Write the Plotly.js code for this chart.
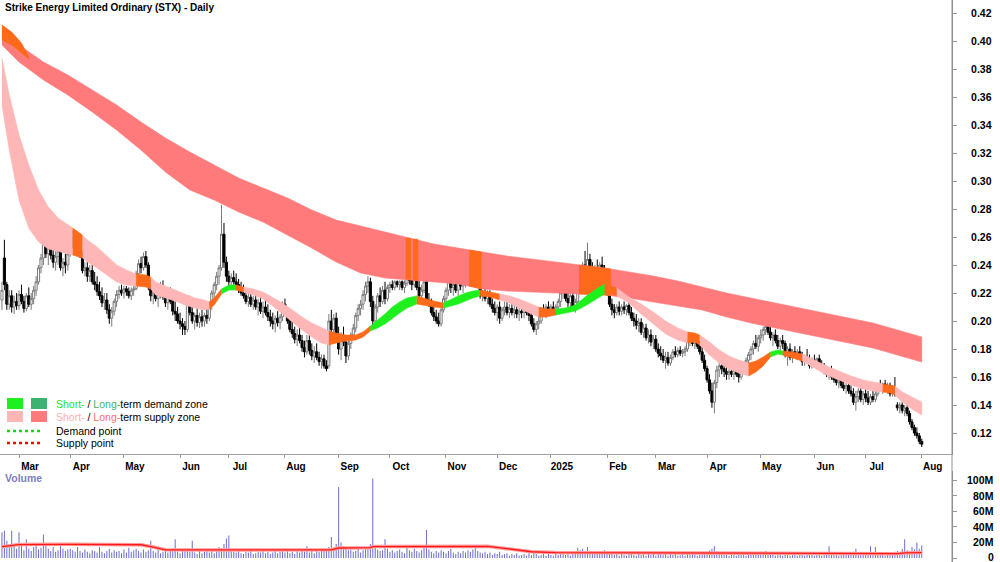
<!DOCTYPE html>
<html><head><meta charset="utf-8">
<script src="https://cdn.plot.ly/plotly-3.0.1.min.js"></script>
<style>html,body{margin:0;padding:0;background:#fff}#chart{width:1000px;height:562px}</style>
</head><body><div id="chart"></div>
<script>
// ---------- trading calendar (weekdays) ----------
const firstDay = Date.UTC(2024, 1, 21), lastDay = Date.UTC(2025, 7, 1);
const dates = [];
for (let t = firstDay; t <= lastDay; t += 86400000) {
  const wd = new Date(t).getUTCDay();
  if (wd !== 0 && wd !== 6) dates.push(new Date(t).toISOString().slice(0, 10));
}
const monthNames = ['Jan','Feb','Mar','Apr','May','Jun','Jul','Aug','Sep','Oct','Nov','Dec'];

// ---------- daily prices (A$) ----------
const open = [
.215,.245,.226,.212,.218,.210,.214,
.211,.219,.214,.209,.218,.212,.216,.222,.228,.238,
.245,.255,.248,.252,.247,.242,.246,.250,.238,.242,
.240,.248,.260,.256,.253,.258,.248,.236,.238,.232,
.236,.228,.226,.221,.218,.213,.215,.208,.202,.207,
.214,.219,.222,.220,.223,.221,.218,.222,.223,.234,
.241,.238,.246,.240,.225,.218,.220,.216,.219,.224,
.217,.213,.218,.214,.207,.205,.200,.198,.196,.194,
.214,.206,.200,.204,.199,.203,.200,.204,.202,.212,
.220,.226,.232,.238,.262,.242,.232,.228,.231,.228,
.226,.224,.220,.218,.214,.217,.212,.215,.210,.213,
.207,.210,.206,.203,.200,.198,.202,.199,.203,.212,
.206,.200,.194,.191,.187,.190,.186,.181,.178,.186,
.179,.175,.178,.174,.171,.173,.168,.168,.200,.194,
.202,.190,.180,.188,.185,.175,.184,.190,.195,.204,
.209,.212,.219,.225,.228,.214,.200,.210,.218,.214,
.222,.216,.224,.226,.224,.228,.226,.228,.224,.227,
.234,.229,.226,.236,.224,.218,.222,.228,.215,.212,
.206,.203,.200,.198,.208,.216,.222,.228,.224,.226,
.222,.228,.225,.230,.232,.235,.232,.240,.244,.228,
.218,.220,.216,.219,.212,.209,.206,.210,.202,.208,
.210,.206,.209,.206,.208,.205,.207,.206,.209,.206,
.204,.198,.194,.198,.200,.208,.206,.210,.208,.210,
.207,.210,.214,.220,.222,.216,.213,.218,.210,.214,
.224,.234,.240,.238,.244,.236,.234,.238,.236,.240,
.236,.226,.222,.212,.208,.206,.210,.207,.210,.208,
.211,.206,.202,.200,.197,.199,.192,.195,.188,.190,
.185,.187,.180,.177,.175,.172,.174,.170,.174,.178,
.176,.179,.177,.178,.180,.186,.188,.184,.188,.182,
.178,.172,.166,.158,.150,.142,.156,.165,.168,.166,
.164,.162,.164,.162,.165,.162,.160,.164,.168,.172,
.176,.180,.184,.182,.188,.190,.194,.196,.192,.188,
.190,.186,.182,.186,.184,.176,.180,.174,.178,.176,
.178,.174,.171,.174,.172,.168,.172,.170,.173,.168,
.166,.164,.162,.164,.160,.158,.156,.158,.154,.152,
.154,.150,.148,.142,.146,.150,.144,.148,.145,.142,
.146,.144,.148,.154,.152,.155,.152,.154,.148,.152,
.140,.138,.140,.136,.138,.134,.128,.124,.120,.118,
.114];
const high = [
.228,.258,.228,.222,.222,.218,.220,
.222,.226,.218,.220,.224,.220,.225,.232,.240,.248,
.260,.263,.256,.258,.252,.250,.255,.254,.245,.248,
.250,.262,.265,.263,.260,.262,.250,.242,.243,.240,
.241,.235,.232,.228,.224,.220,.220,.212,.210,.216,
.222,.225,.226,.225,.225,.224,.224,.225,.236,.244,
.246,.249,.250,.242,.230,.224,.226,.222,.228,.229,
.222,.220,.224,.218,.214,.210,.206,.202,.200,.216,
.218,.212,.206,.209,.206,.208,.206,.210,.214,.222,
.228,.235,.240,.283,.270,.246,.236,.234,.236,.234,
.230,.228,.226,.222,.220,.222,.218,.220,.216,.218,
.214,.215,.212,.208,.206,.204,.207,.205,.214,.216,
.210,.204,.200,.196,.194,.198,.190,.186,.190,.190,
.184,.182,.184,.178,.176,.176,.172,.205,.208,.205,
.206,.196,.192,.196,.190,.186,.192,.198,.206,.212,
.215,.222,.228,.232,.231,.218,.212,.220,.224,.225,
.228,.226,.228,.229,.229,.229,.229,.229,.229,.238,
.237,.229,.240,.238,.230,.226,.230,.230,.220,.216,
.212,.208,.206,.210,.218,.224,.232,.234,.230,.232,
.230,.234,.232,.236,.238,.240,.242,.248,.250,.232,
.222,.224,.222,.222,.216,.214,.212,.214,.210,.214,
.214,.212,.212,.212,.212,.210,.212,.212,.213,.210,
.208,.202,.200,.204,.210,.212,.212,.214,.212,.214,
.212,.216,.222,.226,.226,.220,.220,.222,.216,.226,
.236,.242,.250,.256,.248,.242,.240,.244,.242,.246,
.240,.232,.226,.216,.212,.212,.214,.212,.214,.212,
.214,.210,.206,.205,.202,.202,.198,.198,.194,.194,
.190,.190,.184,.182,.180,.178,.178,.176,.180,.182,
.181,.182,.180,.182,.188,.190,.190,.190,.190,.186,
.182,.176,.168,.162,.156,.158,.168,.172,.174,.170,
.168,.166,.168,.166,.168,.166,.166,.170,.174,.178,
.182,.186,.190,.190,.194,.196,.200,.202,.198,.192,
.194,.190,.188,.190,.186,.182,.184,.180,.182,.180,
.182,.178,.176,.180,.176,.174,.176,.174,.176,.172,
.170,.168,.166,.168,.164,.162,.160,.160,.158,.156,
.156,.154,.152,.150,.152,.152,.150,.152,.150,.148,
.150,.150,.156,.158,.156,.158,.156,.156,.154,.160,
.142,.142,.142,.140,.140,.136,.130,.126,.124,.120,
.116];
const low = [
.208,.222,.208,.208,.206,.205,.208,
.208,.212,.206,.207,.210,.208,.212,.218,.226,.234,
.240,.245,.240,.244,.238,.236,.240,.236,.232,.234,
.236,.246,.252,.250,.248,.245,.234,.232,.228,.228,
.226,.222,.218,.215,.210,.208,.205,.198,.196,.204,
.210,.216,.218,.216,.218,.216,.215,.218,.222,.230,
.234,.236,.238,.222,.214,.212,.214,.210,.216,.215,
.210,.208,.212,.204,.200,.198,.194,.190,.190,.192,
.204,.198,.194,.196,.195,.196,.196,.198,.200,.208,
.215,.222,.226,.236,.238,.228,.224,.224,.226,.222,
.220,.218,.216,.212,.210,.210,.208,.208,.204,.205,
.202,.204,.200,.196,.194,.192,.196,.194,.200,.204,
.198,.192,.188,.184,.182,.184,.178,.174,.176,.176,
.172,.170,.172,.168,.166,.166,.164,.166,.190,.190,
.186,.176,.172,.182,.170,.172,.180,.186,.192,.200,
.204,.208,.214,.220,.210,.196,.198,.206,.210,.212,
.212,.214,.220,.222,.222,.224,.222,.222,.220,.225,
.226,.222,.224,.222,.214,.212,.220,.212,.210,.204,
.200,.198,.196,.196,.206,.212,.218,.220,.218,.220,
.218,.222,.220,.224,.226,.228,.230,.236,.226,.216,
.214,.214,.212,.210,.206,.204,.200,.198,.200,.204,
.204,.202,.204,.202,.202,.200,.202,.202,.204,.200,
.196,.192,.190,.194,.198,.204,.202,.206,.204,.205,
.204,.206,.210,.216,.214,.210,.210,.208,.206,.212,
.222,.230,.234,.236,.234,.230,.228,.232,.230,.232,
.224,.218,.210,.204,.202,.204,.204,.204,.205,.204,
.204,.200,.196,.194,.192,.190,.188,.186,.184,.182,
.180,.178,.174,.172,.170,.166,.168,.168,.172,.174,
.174,.175,.174,.175,.178,.182,.182,.180,.180,.176,
.170,.164,.156,.148,.138,.134,.152,.160,.162,.160,
.158,.158,.160,.158,.160,.156,.158,.162,.166,.170,
.172,.176,.180,.178,.184,.186,.190,.190,.186,.182,
.184,.180,.178,.180,.174,.168,.172,.170,.174,.172,
.172,.168,.168,.170,.166,.166,.168,.166,.166,.164,
.162,.160,.158,.158,.156,.154,.152,.152,.150,.148,
.148,.146,.140,.136,.142,.142,.140,.142,.140,.140,
.142,.142,.146,.150,.148,.150,.148,.146,.146,.146,
.136,.134,.134,.132,.132,.126,.122,.118,.116,.112,
.110];
const close = [
.222,.226,.212,.218,.210,.214,.211,
.219,.214,.209,.218,.212,.216,.222,.228,.238,.245,
.255,.248,.252,.247,.242,.246,.250,.238,.242,.240,
.248,.260,.256,.253,.258,.248,.236,.238,.232,.236,
.228,.226,.221,.218,.213,.215,.208,.202,.207,.214,
.219,.222,.220,.223,.221,.218,.222,.223,.234,.241,
.238,.246,.240,.225,.218,.220,.216,.219,.224,.217,
.213,.218,.214,.207,.205,.200,.198,.196,.194,.214,
.206,.200,.204,.199,.203,.200,.204,.202,.212,.220,
.226,.232,.238,.262,.242,.232,.228,.231,.228,.226,
.224,.220,.218,.214,.217,.212,.215,.210,.213,.207,
.210,.206,.203,.200,.198,.202,.199,.203,.212,.206,
.200,.194,.191,.187,.190,.186,.181,.178,.186,.179,
.175,.178,.174,.171,.173,.168,.166,.200,.194,.202,
.190,.180,.188,.185,.175,.184,.190,.195,.204,.209,
.212,.219,.225,.228,.214,.200,.210,.218,.214,.222,
.216,.224,.226,.224,.228,.226,.228,.224,.227,.234,
.229,.226,.236,.224,.218,.222,.228,.215,.212,.206,
.203,.200,.198,.208,.216,.222,.228,.224,.226,.222,
.228,.225,.230,.232,.235,.232,.240,.244,.228,.218,
.220,.216,.219,.212,.209,.206,.210,.202,.208,.210,
.206,.209,.206,.208,.205,.207,.206,.209,.206,.204,
.198,.194,.198,.200,.208,.206,.210,.208,.210,.207,
.210,.214,.220,.222,.216,.213,.218,.210,.214,.224,
.234,.240,.238,.244,.236,.234,.238,.236,.240,.236,
.226,.222,.212,.208,.206,.210,.207,.210,.208,.211,
.206,.202,.200,.197,.199,.192,.195,.188,.190,.185,
.187,.180,.177,.175,.172,.174,.170,.174,.178,.176,
.179,.177,.178,.180,.186,.188,.184,.188,.182,.178,
.172,.166,.158,.150,.142,.156,.165,.168,.166,.164,
.162,.164,.162,.165,.162,.160,.164,.168,.172,.176,
.180,.184,.182,.188,.190,.194,.196,.192,.188,.190,
.186,.182,.186,.184,.176,.180,.174,.178,.176,.178,
.174,.171,.174,.172,.168,.172,.170,.173,.168,.166,
.164,.162,.164,.160,.158,.156,.158,.154,.152,.154,
.150,.148,.142,.146,.150,.144,.148,.145,.142,.146,
.144,.148,.154,.152,.155,.152,.154,.148,.152,.148,
.138,.140,.136,.138,.134,.128,.124,.120,.118,.114,
.112];

// ---------- daily volume (millions of shares) ----------
const volumeM = [
33,35,22,14,35,18,12,
33,16,10,24,12,9,14,18,11,13,
30,16,12,9,14,8,10,17,12,9,
11,12,10,8,14,9,7,11,8,6,
10,9,7,14,8,6,9,12,7,10,
8,9,6,11,7,13,8,10,12,9,
7,11,8,10,22,9,7,12,6,8,
10,7,9,11,24,8,6,9,12,10,
8,22,7,5,9,6,8,11,7,9,
6,10,14,12,18,25,29,11,8,7,
9,6,5,8,7,10,5,6,8,7,
9,6,8,5,7,9,6,8,10,7,
12,6,8,5,9,7,10,8,15,7,
9,6,10,8,12,9,11,14,27,12,
18,91,20,15,12,10,11,8,9,12,
7,10,14,12,18,102,16,11,9,10,
24,12,8,10,7,9,11,8,6,13,
10,8,12,9,7,10,14,36,11,8,
6,9,7,10,8,6,9,12,7,5,
8,6,9,7,10,8,11,13,9,7,
6,8,5,7,4,6,5,8,4,5,
6,3,5,4,6,3,4,5,3,6,
4,7,5,3,4,6,3,5,4,3,
5,4,6,8,4,5,3,6,9,13,
10,12,8,14,7,6,9,5,7,6,
10,8,6,5,4,6,3,5,4,3,
5,6,4,3,5,4,7,3,5,4,
6,3,5,7,4,6,3,5,4,6,
3,4,5,3,6,4,7,5,3,4,
6,5,8,10,12,15,9,7,5,6,
4,3,5,4,3,5,4,6,3,5,
7,4,6,5,8,6,9,5,4,6,
3,5,4,3,5,4,3,6,4,3,
5,4,3,5,4,6,3,4,5,3,
6,4,15,5,4,6,3,5,4,7,
5,4,8,12,6,5,4,7,5,15,
6,14,5,4,6,3,5,4,6,8,
9,7,12,24,10,8,14,11,20,12,
16];
// volume moving average, read at sample sessions (session = position in dates)
const volMaSession = [0,4,7,27,47,57,62,67,87,117,135,138,151,152,167,199,207,212,217,227,257,287,307,347,367,370,377];
const volMaM       = [14.5,16.5,17.2,17.5,17.2,17,14,10.5,10.3,10.3,10.5,12.8,13.2,14.6,15,15,12,10,8,7,6.5,6.3,5.7,5.5,5.6,6.5,7];
const volTicks = [0,20,40,60,80,100];

// ---------- long-term zone (price), sampled sessions ----------
const ltSession = [0,7,17,27,37,47,57,67,77,87,97,107,117,127,137,147,157,167,177,187,197,207,217,227,237,247,257,267,277,287,297,307,317,327,337,347,357,367,377];
const ltUpper = [.4114,.3972,.3850,.3757,.3650,.3543,.3421,.3307,.3207,.3114,.3021,.2950,.2879,.2793,.2721,.2679,.2636,.2593,.2550,.2521,.2493,.2464,.2443,.2421,.2400,.2379,.2350,.2321,.2286,.2243,.2200,.2164,.2129,.2093,.2057,.2021,.1986,.1936,.1886];
const ltLower = [.3972,.3850,.3722,.3614,.3493,.3364,.3221,.3064,.2936,.2864,.2779,.2707,.2614,.2521,.2421,.2343,.2307,.2293,.2279,.2264,.2229,.2214,.2207,.2200,.2193,.2186,.2164,.2136,.2107,.2079,.2029,.1986,.1950,.1914,.1879,.1843,.1807,.1757,.1707];
// long-term zone sections where price trades inside it
const ltTouch = [
  {session:[0,4,8,11],        upper:[.4114,.4064,.3986,.3886], lower:[.4007,.3972,.3914,.3871]},
  {session:[165.5,167.5],     upper:[.2593,.2590], lower:[.2300,.2298]},
  {session:[168.5,170.5],     upper:[.2586,.2583], lower:[.2290,.2288]},
  {session:[191.5,196.5],     upper:[.2507,.2493], lower:[.2250,.2229]},
  {session:[236.5,247,249.5], upper:[.2400,.2379,.2372], lower:[.2193,.2186,.2184]}
];

// ---------- short-term zone (price), sampled sessions ----------
const stSession = [0,3,7,11,15,19,23,27,29,33,35,39,43,47,51,55,59,61,63,67,71,75,79,83,85,87,90,93,96,99,103,107,111,115,119,123,127,131,134,137,141,145,148,151,154,157,160,163,166,170,173,177,181,184,187,190,193,196,200,204,208,212,216,220,223,227,231,235,239,243,247,250,252,257,262,267,272,277,281,284,286,290,294,298,302,306,309,312,315,318,320,324,328,333,338,343,348,353,357,361,364,366,369,373,377];
const stUpper = [.3879,.3614,.3329,.3114,.2936,.2814,.2736,.2686,.2664,.2614,.2579,.2529,.2464,.2400,.2364,.2336,.2329,.2314,.2279,.2250,.2221,.2193,.2164,.2150,.2136,.2164,.2229,.2257,.2257,.2243,.2229,.2207,.2171,.2129,.2079,.2029,.1986,.1950,.1929,.1914,.1900,.1900,.1921,.1964,.2007,.2050,.2100,.2136,.2164,.2179,.2164,.2143,.2129,.2157,.2179,.2200,.2214,.2221,.2207,.2193,.2179,.2157,.2129,.2100,.2086,.2086,.2093,.2114,.2171,.2221,.2264,.2250,.2236,.2171,.2121,.2064,.2000,.1950,.1921,.1914,.1900,.1850,.1793,.1750,.1721,.1700,.1714,.1743,.1779,.1793,.1786,.1779,.1764,.1721,.1679,.1643,.1607,.1579,.1564,.1550,.1543,.1536,.1493,.1457,.1421];
const stLower = [.3543,.3221,.2864,.2664,.2564,.2514,.2493,.2479,.2471,.2450,.2421,.2379,.2329,.2279,.2257,.2250,.2243,.2229,.2186,.2164,.2143,.2114,.2093,.2079,.2086,.2114,.2193,.2221,.2221,.2207,.2186,.2157,.2107,.2050,.1993,.1936,.1886,.1843,.1829,.1843,.1857,.1864,.1886,.1929,.1950,.1979,.2021,.2057,.2093,.2121,.2114,.2100,.2093,.2107,.2121,.2143,.2164,.2179,.2171,.2150,.2129,.2093,.2057,.2029,.2029,.2043,.2057,.2071,.2107,.2150,.2193,.2193,.2179,.2129,.2050,.1979,.1907,.1864,.1843,.1850,.1829,.1757,.1700,.1657,.1629,.1607,.1636,.1679,.1743,.1764,.1757,.1736,.1714,.1664,.1614,.1579,.1543,.1514,.1500,.1493,.1486,.1471,.1421,.1371,.1329];
// state of the short-term zone: [from session, to session, state]
const stState = [
 [0,29,'supply'],[29,33,'inside'],[33,55,'supply'],[55,61,'inside'],[61,85,'supply'],
 [85,90,'inside'],[90,96,'demand'],[96,99,'inside'],[99,134,'supply'],[134,151,'inside'],
 [151,170,'demand'],[170,181,'inside'],[181,196,'demand'],[196,204,'inside'],[204,220,'supply'],
 [220,227,'inside'],[227,247,'demand'],[247,252,'inside'],[252,281,'supply'],[281,286,'inside'],
 [286,306,'supply'],[306,315,'inside'],[315,320,'demand'],[320,328,'inside'],[328,361,'supply'],
 [361,366,'inside'],[366,377,'supply']
];

// ---------- colours ----------
const C = {supplyS:'#ffb6b6', supplyL:'#ff7b7b', inside:'#ff6a1a', demandS:'#1ef01e', demandL:'#3cb371'};
const stColor = {supply:C.supplyS, inside:C.inside, demand:C.demandS};

function poly(xs, up, lo, color) {
  return {type:'scatter', mode:'lines', x: xs.concat(xs.slice().reverse()), y: up.concat(lo.slice().reverse()),
    fill:'toself', fillcolor: color, line:{color: color, width: 0.6}, hoverinfo:'skip', xaxis:'x', yaxis:'y'};
}

const traces = [];
traces.push(poly(ltSession, ltUpper, ltLower, C.supplyL));
ltTouch.forEach(s => traces.push(poly(s.session, s.upper, s.lower, C.inside)));
stState.forEach(([a, b, st]) => {
  const xs = [], up = [], lo = [];
  stSession.forEach((d, k) => { if (d >= a && d <= b) { xs.push(d); up.push(stUpper[k]); lo.push(stLower[k]); } });
  traces.push(poly(xs, up, lo, stColor[st]));
});

const sessions = dates.map((d, k) => k);
traces.push({type:'candlestick', x: sessions, open, high, low, close, xaxis:'x', yaxis:'y',
  whiskerwidth: 0,
  increasing:{line:{color:'#7a7a7a', width:1}, fillcolor:'#ffffff'},
  decreasing:{line:{color:'#000000', width:1}, fillcolor:'#000000'},
  hoverinfo:'skip'});

traces.push({type:'bar', x: sessions, y: volumeM, xaxis:'x', yaxis:'y2', width:0.42,
  marker:{color:'#7070cc', line:{width:0}}, hoverinfo:'skip'});
traces.push({type:'scatter', mode:'lines', x: volMaSession, y: volMaM, xaxis:'x', yaxis:'y2',
  line:{color:'#ff9a9a', width:3.5}, hoverinfo:'skip'});
traces.push({type:'scatter', mode:'lines', x: volMaSession, y: volMaM, xaxis:'x', yaxis:'y2',
  line:{color:'#ff1a1a', width:1.3}, hoverinfo:'skip'});

// month ticks
const tickVals = [], tickText = [];
for (let k = 1; k < dates.length; k++) {
  if (dates[k].slice(5, 7) !== dates[k - 1].slice(5, 7)) {
    const m = +dates[k].slice(5, 7);
    tickVals.push(k);
    tickText.push(m === 1 ? dates[k].slice(0, 4) : monthNames[m - 1]);
  }
}
const priceTicks = [.12,.14,.16,.18,.20,.22,.24,.26,.28,.30,.32,.34,.36,.38,.40,.42];

const FONT = "'Liberation Sans', Arial, sans-serif";
const W = 952, H = 562;
const px = v => v / W, py = v => 1 - v / H;
const axFont = {family: FONT, size: 10.5, color:'#000', weight:'bold'};

const annotations = [
  {xref:'paper', yref:'paper', x:px(3), y:py(8), xanchor:'left', yanchor:'middle', showarrow:false,
    text:'Strike Energy Limited Ordinary (STX) - Daily', font:{family:FONT, size:10, color:'#000', weight:'bold'}},
  {xref:'paper', yref:'paper', x:px(3), y:py(478), xanchor:'left', yanchor:'middle', showarrow:false,
    text:'Volume', font:{family:FONT, size:10.5, color:'#8080c0', weight:'bold'}},
  {xref:'paper', yref:'paper', x:px(54), y:py(404), xanchor:'left', yanchor:'middle', showarrow:false,
    text:'<span style="color:#19e619">Short-</span> / <span style="color:#3cb371">Long-</span>term demand zone', font:{family:FONT, size:10.5, color:'#000'}},
  {xref:'paper', yref:'paper', x:px(54), y:py(417), xanchor:'left', yanchor:'middle', showarrow:false,
    text:'<span style="color:#ffb0b0">Short-</span> / <span style="color:#ff7070">Long-</span>term supply zone', font:{family:FONT, size:10.5, color:'#000'}},
  {xref:'paper', yref:'paper', x:px(54), y:py(431), xanchor:'left', yanchor:'middle', showarrow:false,
    text:'Demand point', font:{family:FONT, size:10.5, color:'#000'}},
  {xref:'paper', yref:'paper', x:px(54), y:py(443), xanchor:'left', yanchor:'middle', showarrow:false,
    text:'Supply point', font:{family:FONT, size:10.5, color:'#000'}}
];
// volume axis labels, right-aligned at the page edge, placed on the volume scale
volTicks.forEach(v => annotations.push({xref:'paper', yref:'y2', x:px(996), y:v, xanchor:'right', yanchor:'middle',
  yshift: v === 0 ? 1 : 0, showarrow:false, text: v === 0 ? '0' : v + 'M', font: axFont}));

const layout = {
  width: 1000, height: 562, margin:{l:0, r:48, t:0, b:0, pad:0},
  paper_bgcolor:'#ffffff', plot_bgcolor:'#ffffff', showlegend:false,
  font:{family: FONT, size: 10.5, color:'#000'},
  boxgap: 0.15, boxgroupgap: 0,
  xaxis:{domain:[0,1], range:[-0.8, 389.4], anchor:'y', rangeslider:{visible:false},
    tickmode:'array', tickvals: tickVals, ticktext: tickText, ticks:'outside', ticklen:3, tickcolor:'#999',
    ticklabelshift: 11, showline:true, linecolor:'#a0a0a0', linewidth:1, showgrid:false, zeroline:false,
    tickfont:{family: FONT, size: 10, color:'#000', weight:'bold'}, automargin:false, fixedrange:true},
  yaxis:{domain:[1 - 454/H, 1], range:[0.42929 - 454/1400, 0.42929], anchor:'x', side:'right',
    tickmode:'array', tickvals: priceTicks, tickformat:'.2f', ticks:'outside', ticklen:4, tickcolor:'#999',
    ticklabelstandoff: 12, ticklabeloverflow:'allow',
    showline:true, linecolor:'#909090', showgrid:false, zeroline:false, automargin:false, tickfont: axFont},
  yaxis2:{domain:[0, 1 - 471/H], range:[-4/0.78, (558-471)/0.78], anchor:'x', side:'right',
    tickmode:'array', tickvals: volTicks, showticklabels:false,
    ticks:'outside', ticklen:4, tickcolor:'#999', showline:true, linecolor:'#909090', showgrid:false, zeroline:false,
    automargin:false},
  shapes:[
    {type:'line', xref:'paper', yref:'paper', x0:1, x1:1, y0:0, y1:1, line:{color:'#909090', width:1}},
    {type:'rect', xref:'paper', yref:'paper', x0:px(7), x1:px(23), y0:py(409), y1:py(398), fillcolor:C.demandS, line:{width:0}},
    {type:'rect', xref:'paper', yref:'paper', x0:px(31), x1:px(47), y0:py(409), y1:py(398), fillcolor:C.demandL, line:{width:0}},
    {type:'rect', xref:'paper', yref:'paper', x0:px(7), x1:px(23), y0:py(422), y1:py(411), fillcolor:C.supplyS, line:{width:0}},
    {type:'rect', xref:'paper', yref:'paper', x0:px(31), x1:px(47), y0:py(422), y1:py(411), fillcolor:C.supplyL, line:{width:0}},
    {type:'line', xref:'paper', yref:'paper', x0:px(7), x1:px(43), y0:py(431), y1:py(431), line:{color:'#00e000', width:2.5, dash:'dot'}},
    {type:'line', xref:'paper', yref:'paper', x0:px(7), x1:px(43), y0:py(443), y1:py(443), line:{color:'#ff0000', width:2.5, dash:'dot'}}
  ],
  annotations
};

Plotly.newPlot('chart', traces, layout, {displayModeBar:false, staticPlot:true});
</script>
</body></html>
